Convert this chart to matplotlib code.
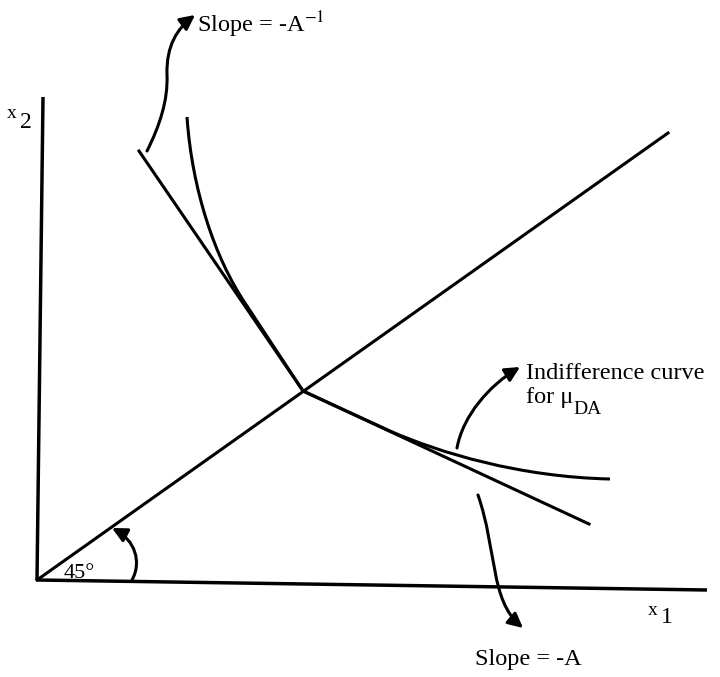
import matplotlib
matplotlib.use("Agg")
import matplotlib.pyplot as plt
from matplotlib.path import Path
from matplotlib.patches import PathPatch, FancyArrowPatch

plt.rcParams['font.family'] = ['Liberation Serif', 'DejaVu Serif']
plt.rcParams['mathtext.fontset'] = 'stix'

# everything in pixel units (x right, y down)
y_axis_x = [43, 37]
y_axis_y = [97, 580]
x_axis_x = [37, 707]
x_axis_y = [580, 590]
diag_x = [37, 668]
diag_y = [580, 133]

# kinked budget line (slope -A^-1 above the kink, -A below)
kink_x = [139, 303, 589]
kink_y = [151, 391, 524]

# indifference curve for mu_DA: bezier pieces (start, ctrl, ctrl, end)
indiff_upper = [(187, 117), (192, 190), (215, 258), (245, 303)]
indiff_mid = [(245, 303), (303, 391), (390, 431)]
indiff_lower = [(390, 431), (440, 453), (520, 477), (610, 479)]

# curved pointer arrows, cubic bezier control points
arr_top = [(147, 151), (160, 125), (168, 100), (167, 75),
           (166, 45), (178, 28), (195, 15)]
arr_ind = [(457, 448), (463, 415), (490, 385), (520, 367)]
arr_bot = [(478, 495), (497, 550), (490, 600), (523, 628)]
arc_45 = [(132, 580), (142, 562), (135, 540), (112, 528)]

fig = plt.figure(figsize=(7.2, 6.77), dpi=100)
ax = fig.add_axes([0, 0, 1, 1])
ax.set_xlim(0, 720)
ax.set_ylim(677, 0)
ax.axis('off')

lw = 2.2
ax.plot(y_axis_x, y_axis_y, color='black', lw=lw + 0.3, solid_capstyle='butt')
ax.plot(x_axis_x, x_axis_y, color='black', lw=lw + 0.3, solid_capstyle='butt')
ax.plot(diag_x, diag_y, color='black', lw=lw)
ax.plot(kink_x, kink_y, color='black', lw=lw)

verts = indiff_upper + indiff_mid[1:] + indiff_lower[1:]
codes = ([Path.MOVETO] + [Path.CURVE4] * 3 + [Path.LINETO] * 2
         + [Path.CURVE4] * 3)
ax.add_patch(PathPatch(Path(verts, codes), fill=False, lw=lw,
                       edgecolor='black'))


def pointer(pts):
    codes = [Path.MOVETO] + [Path.CURVE4] * (len(pts) - 1)
    arrow = FancyArrowPatch(path=Path(pts, codes), arrowstyle='-|>',
                            mutation_scale=22, color='black', lw=lw,
                            shrinkA=0, shrinkB=0)
    ax.add_patch(arrow)


pointer(arr_top)
pointer(arr_ind)
pointer(arr_bot)
pointer(arc_45)

fs = 17.5
ax.text(197, 32, r'Slope = -A$^{-1}$', fontsize=fs, va='baseline', ha='left')
ax.text(526, 379, 'Indifference curve', fontsize=fs, va='baseline', ha='left')
ax.text(526, 403, 'for μ', fontsize=fs, va='baseline', ha='left')
ax.text(573, 414, 'DA', fontsize=14, va='baseline', ha='left')
ax.text(475, 665, 'Slope = -A', fontsize=fs, va='baseline', ha='left')
ax.text(64, 578, '45°', fontsize=16, va='baseline', ha='left')
ax.text(7, 118, 'x', fontsize=14, va='baseline', ha='left')
ax.text(20, 128, '2', fontsize=17, va='baseline', ha='left')
ax.text(648, 615, 'x', fontsize=14, va='baseline', ha='left')
ax.text(661, 623, '1', fontsize=17, va='baseline', ha='left')

fig.savefig('out.png', dpi=100)
